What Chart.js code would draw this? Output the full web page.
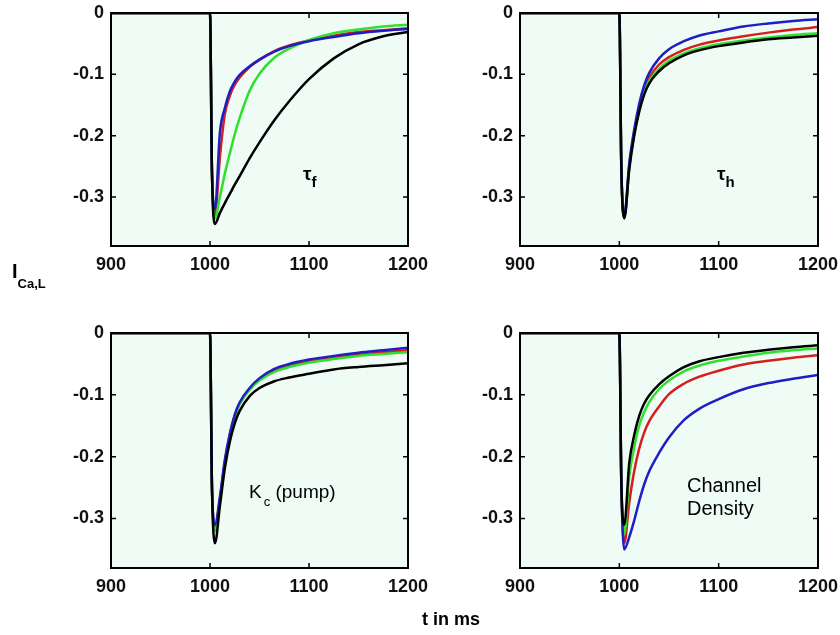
<!DOCTYPE html>
<html>
<head>
<meta charset="utf-8">
<script src="https://cdn.jsdelivr.net/npm/chart.js@4.4.1/dist/chart.umd.min.js"></script>
<style>
  body { margin: 0; background: #fff; width: 840px; height: 635px; position: relative; overflow: hidden;
         font-family: "Liberation Sans", Arial, sans-serif; color: #000; }
  canvas { position: absolute; }
  .txt { position: absolute; line-height: 1; white-space: nowrap; }
  .sub { position: relative; }
</style>
</head>
<body>
<canvas id="tauF" width="460" height="300" style="left:0;top:0"></canvas>
<canvas id="tauH" width="460" height="300" style="left:400px;top:0"></canvas>
<canvas id="pumpKc" width="460" height="300" style="left:0;top:318px"></canvas>
<canvas id="density" width="460" height="300" style="left:400px;top:318px"></canvas>

<div class="txt" style="left:12px;top:261px;font-weight:bold;font-size:20px">I<span class="sub" style="font-size:13px;top:10px">Ca,L</span></div>
<div class="txt" style="left:422px;top:610px;font-weight:bold;font-size:18px">t in ms</div>
<div class="txt" style="left:303px;top:164px;font-size:19px;font-weight:bold">τ<span class="sub" style="font-size:15px;top:7px">f</span></div>
<div class="txt" style="left:717px;top:164px;font-size:19px;font-weight:bold">τ<span class="sub" style="font-size:15px;top:7px">h</span></div>
<div class="txt" style="left:249px;top:482px;font-size:19px">K<span class="sub" style="font-size:13px;top:8px;margin-left:2px">c</span> (pump)</div>
<div class="txt" style="left:687px;top:474px;font-size:20px;line-height:22.5px">Channel<br>Density</div>

<script>
// time points (ms)
const TIME = [900, 1000, 1002, 1005, 1010, 1015, 1020, 1025, 1030, 1040, 1050, 1065, 1080, 1100, 1125, 1150, 1175, 1200];

const X_TICKS = [900, 1000, 1100, 1200];
const X_TICK_LABELS = ['900', '1000', '1100', '1200'];
const Y_TICKS = [0, -0.1, -0.2, -0.3];
const Y_TICK_LABELS = ['0', '-0.1', '-0.2', '-0.3'];

// tau_f panel
const TAUF_RED   = [0, 0, -0.26, -0.330, -0.235, -0.165, -0.135, -0.117, -0.105, -0.088, -0.076, -0.062, -0.053, -0.045, -0.037, -0.031, -0.028, -0.025];
const TAUF_GREEN = [0, 0, -0.26, -0.335, -0.300, -0.262, -0.229, -0.198, -0.171, -0.127, -0.099, -0.073, -0.058, -0.044, -0.033, -0.027, -0.022, -0.019];
const TAUF_BLUE  = [0, 0, -0.26, -0.320, -0.195, -0.155, -0.128, -0.112, -0.101, -0.087, -0.076, -0.063, -0.054, -0.046, -0.039, -0.033, -0.029, -0.026];
const TAUF_BLACK = [0, 0, -0.26, -0.344, -0.326, -0.310, -0.295, -0.280, -0.266, -0.237, -0.211, -0.175, -0.144, -0.108, -0.074, -0.051, -0.038, -0.031];

// tau_h panel
const TAUH_RED   = [0, 0, -0.25, -0.333, -0.250, -0.195, -0.155, -0.126, -0.106, -0.084, -0.072, -0.060, -0.052, -0.045, -0.038, -0.032, -0.027, -0.023];
const TAUH_GREEN = [0, 0, -0.25, -0.333, -0.253, -0.198, -0.158, -0.130, -0.111, -0.091, -0.078, -0.066, -0.058, -0.051, -0.045, -0.040, -0.036, -0.033];
const TAUH_BLUE  = [0, 0, -0.25, -0.330, -0.245, -0.190, -0.148, -0.118, -0.098, -0.074, -0.059, -0.046, -0.037, -0.030, -0.022, -0.017, -0.013, -0.010];
const TAUH_BLACK = [0, 0, -0.25, -0.335, -0.255, -0.200, -0.161, -0.133, -0.115, -0.095, -0.082, -0.069, -0.061, -0.054, -0.048, -0.043, -0.040, -0.037];

// K_c (pump) panel
const KC_RED   = [0, 0, -0.25, -0.315, -0.268, -0.208, -0.165, -0.134, -0.114, -0.091, -0.075, -0.061, -0.053, -0.046, -0.040, -0.035, -0.031, -0.028];
const KC_GREEN = [0, 0, -0.25, -0.320, -0.270, -0.210, -0.166, -0.135, -0.115, -0.092, -0.077, -0.063, -0.055, -0.048, -0.042, -0.037, -0.034, -0.031];
const KC_BLUE  = [0, 0, -0.25, -0.310, -0.265, -0.205, -0.163, -0.132, -0.112, -0.089, -0.073, -0.058, -0.050, -0.043, -0.037, -0.032, -0.028, -0.024];
const KC_BLACK = [0, 0, -0.25, -0.340, -0.280, -0.219, -0.176, -0.146, -0.126, -0.102, -0.089, -0.078, -0.072, -0.066, -0.059, -0.055, -0.052, -0.049];

// channel density panel
const DENS_RED   = [0, 0, -0.24, -0.340, -0.274, -0.223, -0.187, -0.161, -0.143, -0.119, -0.099, -0.082, -0.071, -0.061, -0.051, -0.045, -0.040, -0.036];
const DENS_GREEN = [0, 0, -0.24, -0.325, -0.232, -0.185, -0.150, -0.128, -0.112, -0.091, -0.077, -0.062, -0.053, -0.045, -0.038, -0.032, -0.028, -0.025];
const DENS_BLUE  = [0, 0, -0.24, -0.350, -0.330, -0.303, -0.272, -0.245, -0.224, -0.194, -0.169, -0.141, -0.123, -0.107, -0.091, -0.081, -0.074, -0.068];
const DENS_BLACK = [0, 0, -0.24, -0.310, -0.210, -0.165, -0.134, -0.114, -0.101, -0.083, -0.070, -0.055, -0.046, -0.039, -0.032, -0.027, -0.023, -0.020];

const RED = '#d61e1e';
const GREEN = '#2fe02f';
const BLUE = '#1e1ec4';
const BLACK = '#000000';
const PLOT_BG = '#effbf5';
const TICK_FONT = { family: "'Liberation Sans', Arial, sans-serif", size: 18, weight: 'bold' };

// background, box and inward tick marks (matlab style)
const framePlugin = {
    id: 'frame',
    beforeDatasetsDraw(chart) {
        const { ctx, chartArea: a } = chart;
        ctx.save();
        ctx.fillStyle = PLOT_BG;
        ctx.fillRect(a.left, a.top, a.width, a.height);
        ctx.restore();
    },
    afterDatasetsDraw(chart) {
        const { ctx, chartArea: a, scales } = chart;
        ctx.save();
        ctx.strokeStyle = '#000';
        ctx.lineWidth = 1.5;
        ctx.beginPath();
        X_TICKS.forEach(v => {
            const px = scales.x.getPixelForValue(v);
            ctx.moveTo(px, a.bottom); ctx.lineTo(px, a.bottom - 5);
            ctx.moveTo(px, a.top); ctx.lineTo(px, a.top + 5);
        });
        Y_TICKS.forEach(v => {
            const py = scales.y.getPixelForValue(v);
            ctx.moveTo(a.left, py); ctx.lineTo(a.left + 5, py);
            ctx.moveTo(a.right, py); ctx.lineTo(a.right - 5, py);
        });
        ctx.stroke();
        ctx.lineWidth = 2;
        ctx.strokeRect(a.left, a.top, a.width, a.height);
        ctx.restore();
    }
};

function makePanel(id, series, area) {
    // chart.js paints the first dataset on top, so black goes first
    const datasets = series.map(s => ({
        data: TIME.map((t, i) => ({ x: t, y: s.values[i] })),
        borderColor: s.color,
        borderWidth: 2.5,
        pointRadius: 0,
        fill: false,
        cubicInterpolationMode: 'monotone'
    }));

    return new Chart(document.getElementById(id), {
        type: 'line',
        data: { datasets },
        options: {
            responsive: false,
            animation: false,
            devicePixelRatio: 1,
            layout: { padding: { left: 0, top: area.top, right: area.right, bottom: area.bottom } },
            plugins: { legend: { display: false }, tooltip: { enabled: false } },
            scales: {
                x: {
                    type: 'linear',
                    min: 900,
                    max: 1200,
                    // grid hidden, tickLength only spaces the labels off the box
                    grid: { display: false, drawTicks: true, tickLength: 8 },
                    border: { display: false },
                    afterBuildTicks: s => { s.ticks = X_TICKS.map(v => ({ value: v })); },
                    afterFit: s => { s.height = 40; },
                    ticks: {
                        padding: 0,
                        font: TICK_FONT,
                        color: '#111',
                        maxRotation: 0,
                        autoSkip: false,
                        callback: (v, i) => X_TICK_LABELS[i]
                    }
                },
                y: {
                    min: -0.38,
                    max: 0,
                    grid: { display: false, drawTicks: true, tickLength: 7 },
                    border: { display: false },
                    afterBuildTicks: s => { s.ticks = Y_TICKS.map(v => ({ value: v })); },
                    afterFit: s => { s.width = area.left; },
                    ticks: {
                        padding: 0,
                        font: TICK_FONT,
                        color: '#111',
                        autoSkip: false,
                        callback: (v, i) => Y_TICK_LABELS[i]
                    }
                }
            }
        },
        plugins: [framePlugin]
    });
}

makePanel('tauF', [
    { values: TAUF_BLACK, color: BLACK },
    { values: TAUF_BLUE, color: BLUE },
    { values: TAUF_GREEN, color: GREEN },
    { values: TAUF_RED, color: RED }
], { left: 111, top: 13, right: 52, bottom: 14 });

makePanel('tauH', [
    { values: TAUH_BLACK, color: BLACK },
    { values: TAUH_BLUE, color: BLUE },
    { values: TAUH_GREEN, color: GREEN },
    { values: TAUH_RED, color: RED }
], { left: 120, top: 13, right: 42, bottom: 14 });

makePanel('pumpKc', [
    { values: KC_BLACK, color: BLACK },
    { values: KC_BLUE, color: BLUE },
    { values: KC_GREEN, color: GREEN },
    { values: KC_RED, color: RED }
], { left: 111, top: 15, right: 52, bottom: 10 });

makePanel('density', [
    { values: DENS_BLACK, color: BLACK },
    { values: DENS_BLUE, color: BLUE },
    { values: DENS_GREEN, color: GREEN },
    { values: DENS_RED, color: RED }
], { left: 120, top: 15, right: 42, bottom: 10 });
</script>
</body>
</html>
